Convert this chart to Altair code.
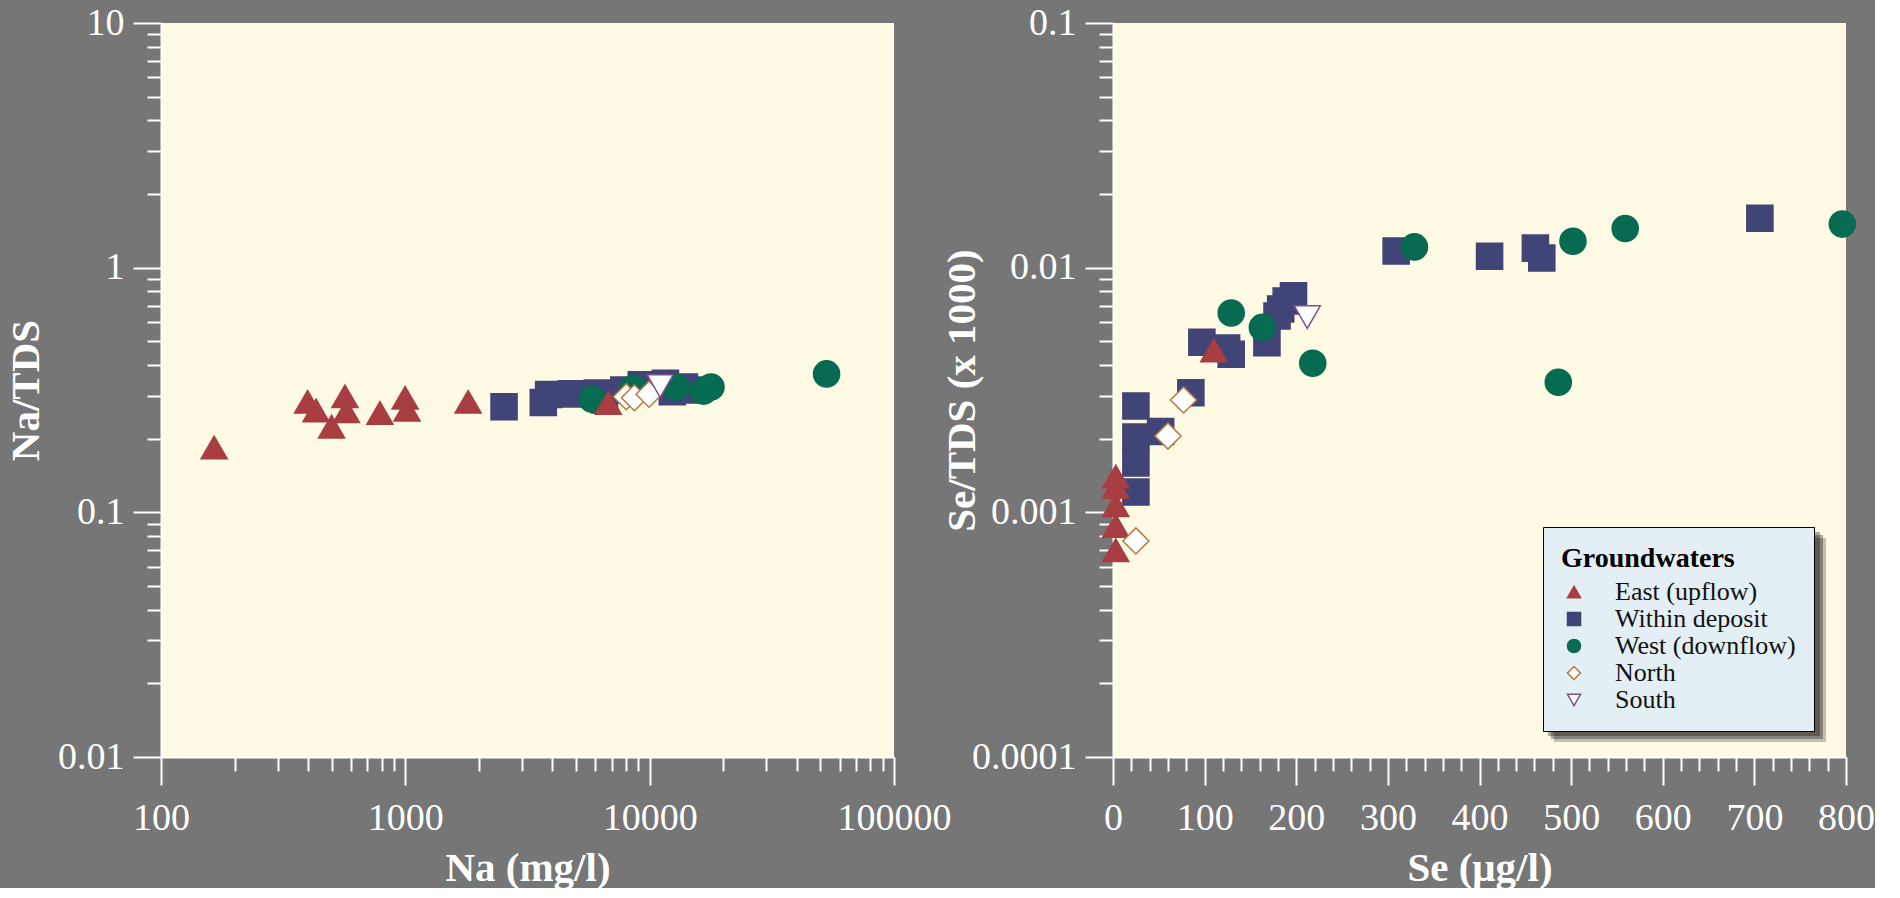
import altair as alt
import pandas as pd

GROUPS = ["East (upflow)", "Within deposit", "West (downflow)", "North", "South"]
SHAPES = ["triangle-up", "square", "circle", "diamond", "triangle-down"]
FILLS = ["#A83E41", "#414477", "#066B50", "#FFFFFF", "#FFFFFF"]
STROKES = ["#A83E41", "#414477", "#066B50", "#B8773F", "#7F4F8C"]
DRAW_ORDER = [1, 2, 0, 3, 4]  # squares, circles, then triangles, diamonds, south

# ---- Left panel: Na (mg/l) vs Na/TDS ----
east_na = [165, 398, 431, 499, 566, 574, 787, 998, 1016, 1807, 6770]
east_na_tds = [0.184, 0.283, 0.261, 0.224, 0.298, 0.259, 0.255, 0.294, 0.263, 0.283, 0.280]
within_na = [2535, 3670, 3860, 4790, 6100, 6530, 7840, 9240, 11600, 12380, 13870, 14860]
within_na_tds = [0.270, 0.281, 0.303, 0.305, 0.307, 0.288, 0.316, 0.332, 0.337, 0.311, 0.325, 0.316]
west_na = [5820, 8590, 12820, 16630, 17820, 52970]
west_na_tds = [0.290, 0.321, 0.325, 0.313, 0.325, 0.368]
north_na = [8020, 8660, 9940]
north_na_tds = [0.297, 0.294, 0.304]
south_na = [11040]
south_na_tds = [0.328]

# ---- Right panel: Se (ug/l) vs Se/TDS (x 1000) ----
east_se = [3, 3, 3, 3, 3, 110]
east_se_tds = [0.00140, 0.00127, 0.00107, 0.00088, 0.00070, 0.00459]
within_se = [25, 25, 25, 25, 52, 85, 97, 124, 129, 168, 179, 183, 189, 197, 309, 411, 461, 468, 706]
within_se_tds = [0.00272, 0.00203, 0.00159, 0.00121, 0.00214, 0.00308, 0.00496, 0.00469, 0.00443,
                 0.00493, 0.00635, 0.00678, 0.00731, 0.00768, 0.01170, 0.01114, 0.01202, 0.01096, 0.01591]
west_se = [129, 163, 218, 329, 486, 502, 559, 796]
west_se_tds = [0.00653, 0.00570, 0.00407, 0.01216, 0.00340, 0.01283, 0.01445, 0.01507]
north_se = [25, 60, 77]
north_se_tds = [0.000764, 0.00205, 0.00288]
south_se = [212]
south_se_tds = [0.00628]

# axis tick values
left_x_major = [100, 1000, 10000, 100000]
left_y_major = [0.01, 0.1, 1, 10]
right_x_major = [0, 100, 200, 300, 400, 500, 600, 700, 800]
right_y_major = [0.0001, 0.001, 0.01, 0.1]


def minors(decades):
    out = []
    for d in decades[:-1]:
        for k in range(2, 10):
            out.append(round(d * k, 10))
    return out


left_x_minor = minors(left_x_major)
left_y_minor = minors(left_y_major)
right_y_minor = minors(right_y_major)
right_x_minor = [v for v in range(0, 801, 20) if v % 100 != 0]


def frame(xs_list, ys_list):
    rows = []
    for i in DRAW_ORDER:
        for a, b in zip(xs_list[i], ys_list[i]):
            rows.append({"group": GROUPS[i], "x": a, "y": b})
    return pd.DataFrame(rows)


df_left = frame([east_na, within_na, west_na, north_na, south_na],
                [east_na_tds, within_na_tds, west_na_tds, north_na_tds, south_na_tds])
df_right = frame([east_se, within_se, west_se, north_se, south_se],
                 [east_se_tds, within_se_tds, west_se_tds, north_se_tds, south_se_tds])

FONT = "Liberation Serif"
W, H = 733, 734
SPACING = 219
LABEL_FS = 38
TITLE_FS = 41

# legend box placement (relative to the left plot's origin)
LEG_X, LEG_Y, LEG_W, LEG_H = 1382, 504, 272, 204

LEGEND = alt.Legend(title="Groundwaters", orient="none", legendX=LEG_X, legendY=LEG_Y, zindex=5,
                    fillColor="#E3EFF4", strokeColor="black",
                    padding=18, cornerRadius=0,
                    titleFont=FONT, titleFontSize=28, titleFontWeight="bold",
                    titleColor="black", titlePadding=6,
                    labelFont=FONT, labelFontSize=26, labelColor="#111111", labelLimit=400,
                    labelOffset=28, symbolSize=170, symbolStrokeWidth=1.5,
                    rowPadding=1)


def major_axis(values, title, orient, title_pad, fmt, label_pad):
    return alt.Axis(values=values, title=title, orient=orient, format=fmt,
                    tickSize=28, tickWidth=2, tickColor="white",
                    domain=True, domainColor="white", domainWidth=2,
                    labels=True, labelFont=FONT, labelFontSize=LABEL_FS, labelColor="white",
                    labelPadding=label_pad, labelFlush=False, labelOverlap=False,
                    titleFont=FONT, titleFontSize=TITLE_FS, titleFontWeight="bold",
                    titleColor="white", titlePadding=title_pad, grid=False)


def minor_axis(values, orient):
    return alt.Axis(values=values, title=None, orient=orient, labels=False,
                    tickSize=14, tickWidth=2, tickColor="white", domain=False, grid=False)


def panel(df, xscale, yscale, xmaj, xmin, ymaj, ymin, xtitle, ytitle, ytitle_pad, xfmt, shadow):
    base = alt.Chart(df)
    minor = base.mark_point(opacity=0).encode(
        x=alt.X("x:Q", scale=xscale, axis=minor_axis(xmin, "bottom")),
        y=alt.Y("y:Q", scale=yscale, axis=minor_axis(ymin, "left")),
    )
    major = base.mark_point(filled=True, opacity=1, strokeWidth=1.5, size=680).encode(
        x=alt.X("x:Q", scale=xscale, axis=major_axis(xmaj, xtitle, "bottom", 11, xfmt, 14)),
        y=alt.Y("y:Q", scale=yscale, axis=major_axis(ymaj, ytitle, "left", ytitle_pad, "~g", 9)),
        shape=alt.Shape("group:N", scale=alt.Scale(domain=GROUPS, range=SHAPES), legend=LEGEND),
        fill=alt.Fill("group:N", scale=alt.Scale(domain=GROUPS, range=FILLS), legend=LEGEND),
        stroke=alt.Stroke("group:N", scale=alt.Scale(domain=GROUPS, range=STROKES), legend=LEGEND),
    )
    layers = [minor]
    if shadow:
        # soft drop shadow behind the legend box (legend sits in the right panel)
        lx = LEG_X - (W + SPACING)
        sdf = pd.DataFrame({"k": [0]})
        for off, op in [(11, 0.25), (8, 0.35), (5, 0.35)]:
            layers.append(alt.Chart(sdf).mark_rect(color="#111111", opacity=op).encode(
                x=alt.value(lx + off), x2=alt.value(lx + LEG_W + off),
                y=alt.value(LEG_Y + off), y2=alt.value(LEG_Y + LEG_H + off)))
    layers.append(major)
    return alt.layer(*layers).resolve_axis(x="independent", y="independent").properties(width=W, height=H)


left = panel(df_left,
             alt.Scale(type="log", domain=[100, 100000], nice=False),
             alt.Scale(type="log", domain=[0.01, 10], nice=False),
             left_x_major, left_x_minor, left_y_major, left_y_minor,
             "Na (mg/l)", "Na/TDS", 10, "~g", False)
right = panel(df_right,
              alt.Scale(type="linear", domain=[0, 800], nice=False, zero=False),
              alt.Scale(type="log", domain=[0.0001, 0.1], nice=False),
              right_x_major, right_x_minor, right_y_major, right_y_minor,
              "Se (μg/l)", "Se/TDS (x 1000)", -12, "d", True)

chart = alt.hconcat(left, right, spacing=SPACING, bounds="flush").properties(
    padding={"left": 5, "top": 4, "right": 0, "bottom": 0},
    background="#767676",
).configure_view(fill="#FEFAE3", strokeWidth=0)

chart.save("out.html", embed_options={"renderer": "svg", "actions": False})
